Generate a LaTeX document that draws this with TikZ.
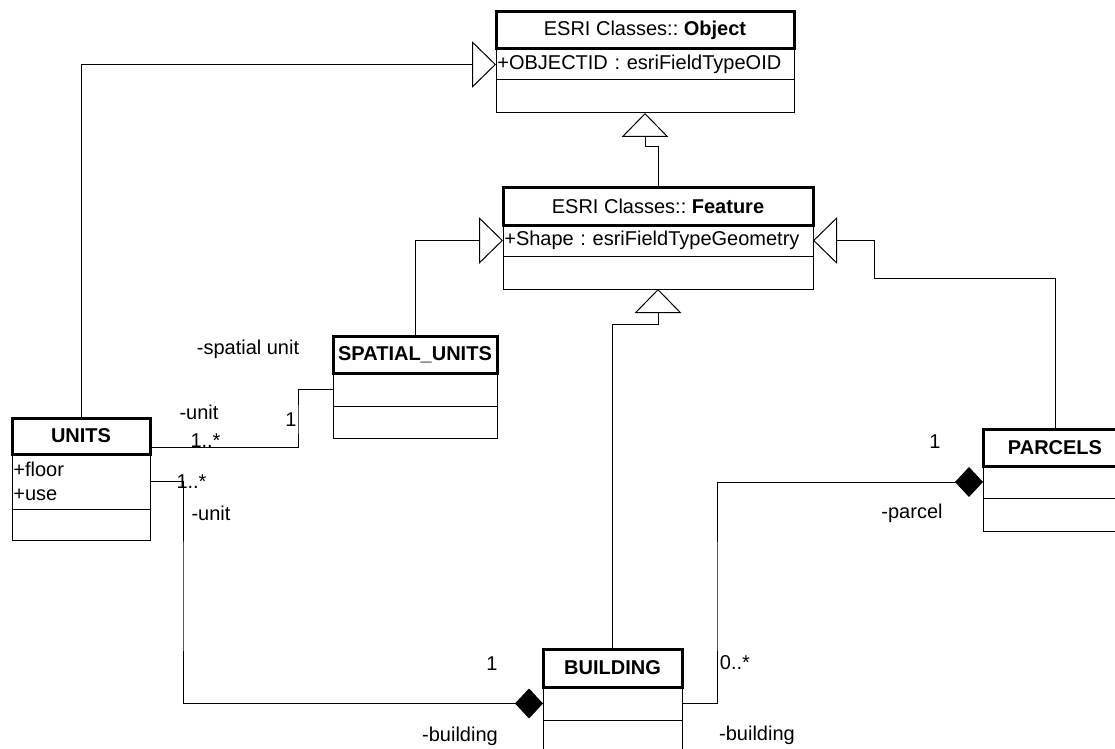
\documentclass[tikz,border=0pt]{standalone}
\usepackage{fontspec}
\setmainfont{Liberation Sans}
\usetikzlibrary{arrows.meta}
\frenchspacing

\tikzset{every picture/.style={line width=0.75pt},
  umlfont/.style={font=\fontsize{15}{18}\selectfont},
  clshead/.style={umlfont, draw, line width=2.25pt, inner sep=0pt, outer sep=0pt, anchor=north west, align=center},
  clsrow/.style={umlfont, draw, line width=0.75pt, inner xsep=1pt, inner ysep=0pt, outer sep=0pt, anchor=north west, align=left},
  rolelbl/.style={umlfont, inner sep=0pt},
  gen/.style={-{Triangle[open, length=18pt, width=35pt, fill=white]}},
  comp/.style={-{Diamond[length=21pt, width=22.5pt]}}
}

\begin{document}
\begin{tikzpicture}[x=0.75pt,y=0.75pt,yscale=-1,xscale=1]
\useasboundingbox (0,0) rectangle (1115,749);

% Class Object
\node[clshead, minimum width=223.5pt, minimum height=27.75pt] (objHead) at (496,12) {ESRI Classes:: \textbf{Object}};
\node[clsrow, text width=221.5pt, minimum height=23.25pt] (objAttr) at (objHead.south west) {+OBJECTID : esriFieldTypeOID};
\node[clsrow, text width=221.5pt, minimum height=24.75pt] (objOps) at (objAttr.south west) {};

% Class Feature
\node[clshead, minimum width=232.5pt, minimum height=28.5pt] (featHead) at (503,187) {ESRI Classes:: \textbf{Feature}};
\node[clsrow, text width=230.5pt, minimum height=23.25pt] (featAttr) at (featHead.south west) {+Shape : esriFieldTypeGeometry};
\node[clsrow, text width=230.5pt, minimum height=24.75pt] (featOps) at (featAttr.south west) {};

% Class SPATIAL_UNITS
\node[clshead, minimum width=123pt, minimum height=27.75pt] (spuHead) at (333,336) {\textbf{SPATIAL\_UNITS}};
\node[clsrow, text width=121pt, minimum height=24.75pt] (spuAttr) at (spuHead.south west) {};
\node[clsrow, text width=121pt, minimum height=24pt] (spuOps) at (spuAttr.south west) {};

% Class UNITS
\node[clshead, minimum width=103.5pt, minimum height=27pt] (unitsHead) at (12,418) {\textbf{UNITS}};
\node[clsrow, text width=101.5pt, minimum height=41.25pt] (unitsAttr) at (unitsHead.south west) {+floor\\+use};
\node[clsrow, text width=101.5pt, minimum height=23.25pt] (unitsOps) at (unitsAttr.south west) {};

% Class BUILDING
\node[clshead, minimum width=104.25pt, minimum height=28.5pt] (bldHead) at (543,649) {\textbf{BUILDING}};
\node[clsrow, text width=102.25pt, minimum height=24.75pt] (bldAttr) at (bldHead.south west) {};
\node[clsrow, text width=102.25pt, minimum height=24.75pt] (bldOps) at (bldAttr.south west) {};

% Class PARCELS
\node[clshead, minimum width=108pt, minimum height=27.75pt] (parHead) at (983,429) {\textbf{PARCELS}};
\node[clsrow, text width=106pt, minimum height=24pt] (parAttr) at (parHead.south west) {};
\node[clsrow, text width=106pt, minimum height=24.75pt] (parOps) at (parAttr.south west) {};

% Bend points
\coordinate (featBend) at (645,147);
\coordinate (bldBend) at (658,324);
\coordinate (parBend) at (874,278);
\coordinate (unitSpuBend) at (298,420);
\coordinate (unitBldBend) at (183,600);
\coordinate (bldParBend) at (717,600);

% Generalizations
\draw[gen] (unitsHead.north) |- (objAttr.west);
\draw[gen] (featHead.north) |- (featBend) -- (objOps.south);
\draw[gen] (spuHead.north) |- (featAttr.west);
\draw[gen] (bldHead.north) |- (bldBend) -- (featOps.south);
\draw[gen] (parHead.north) |- (parBend) |- (featAttr.east);

% Associations
\draw ([yshift=8.25pt]unitsHead.east) -| (unitSpuBend) |- (spuAttr.west);
\draw[comp] (unitsAttr.east) -| (unitBldBend) |- (bldAttr.west);
\draw[comp] (bldAttr.east) -| (bldParBend) |- (parAttr.west);

% Role and multiplicity labels
\node[rolelbl] (lblSpatial) at (248,349) {-spatial unit};
\node[rolelbl] (lblUnitTop) at (199,412) {-unit};
\node[rolelbl, anchor=base west] (lblMultTop) at (190,447) {1..*};
\node[rolelbl] (lblOneSpu) at (291,420) {1};
\node[rolelbl, anchor=base west] (lblMultLow) at (176,488) {1..*};
\node[rolelbl] (lblUnitLow) at (211,513) {-unit};
\node[rolelbl] (lblOneBld) at (492,664) {1};
\node[rolelbl] (lblBldLeft) at (460,736) {-building};
\node[rolelbl] (lblZeroMany) at (735,663) {0..*};
\node[rolelbl] (lblBldRight) at (757,735) {-building};
\node[rolelbl] (lblOnePar) at (935,442) {1};
\node[rolelbl] (lblParcel) at (912,513) {-parcel};

\end{tikzpicture}
\end{document}
